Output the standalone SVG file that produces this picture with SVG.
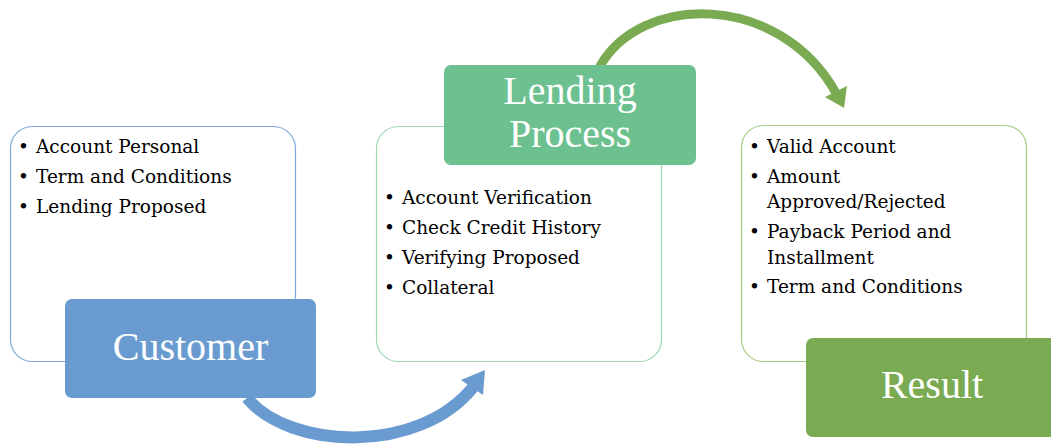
<svg xmlns="http://www.w3.org/2000/svg" width="1051" height="444" viewBox="0 0 1051 444">
<style>
.bt{font-family:"DejaVu Serif","Liberation Serif",serif;font-size:18.5px;fill:#000}
.lb{font-family:"Liberation Serif","DejaVu Serif",serif;font-size:40px;fill:#fff;text-anchor:middle}
.cbox{fill:#fff;stroke-width:1.2}
</style>
<rect width="1051" height="444" fill="#fff"/>
<g id="connectors">
<path d="M247,398 C290,450 420,455 474,386" fill="none" stroke="#6a9bd0" stroke-width="12"/>
<polygon points="485,370 461,380 483,395" fill="#6a9bd0"/>
<path d="M599,68 C640,-8 780,-8 836,93" fill="none" stroke="#7aab53" stroke-width="9"/>
<polygon points="844,108 825,97 847,86" fill="#7aab53"/>
</g>
<g id="customer-details">
<rect class="cbox" x="10.5" y="126.5" width="285" height="235" rx="22" stroke="#7ea6da"/>
<text class="bt" x="18" y="153">•</text><text class="bt" x="36" y="153">Account Personal</text>
<text class="bt" x="18" y="183">•</text><text class="bt" x="36" y="183">Term and Conditions</text>
<text class="bt" x="18" y="213">•</text><text class="bt" x="36" y="213">Lending Proposed</text>
</g>
<g id="customer">
<rect x="65" y="299" width="251" height="99" rx="7" fill="#6a9bd0"/>
<text class="lb" x="190.5" y="360">Customer</text>
</g>
<g id="lending-details">
<rect class="cbox" x="376.5" y="126.5" width="285" height="235" rx="22" stroke="#9ed8b3"/>
<text class="bt" x="384" y="204">•</text><text class="bt" x="402" y="204">Account Verification</text>
<text class="bt" x="384" y="234">•</text><text class="bt" x="402" y="234">Check Credit History</text>
<text class="bt" x="384" y="264">•</text><text class="bt" x="402" y="264">Verifying Proposed</text>
<text class="bt" x="384" y="294">•</text><text class="bt" x="402" y="294">Collateral</text>
</g>
<g id="lending-process">
<rect x="444" y="65" width="252" height="100" rx="7" fill="#6dc191"/>
<text class="lb" x="570" y="104">Lending</text>
<text class="lb" x="570" y="147">Process</text>
</g>
<g id="result-details">
<rect class="cbox" x="741.5" y="125.5" width="285" height="236" rx="22" stroke="#a6cb85"/>
<text class="bt" x="749" y="153">•</text><text class="bt" x="767" y="153">Valid Account</text>
<text class="bt" x="749" y="183">•</text><text class="bt" x="767" y="183">Amount</text>
<text class="bt" x="767" y="208">Approved/Rejected</text>
<text class="bt" x="749" y="238">•</text><text class="bt" x="767" y="238">Payback Period and</text>
<text class="bt" x="767" y="264">Installment</text>
<text class="bt" x="749" y="293">•</text><text class="bt" x="767" y="293">Term and Conditions</text>
</g>
<g id="result">
<rect x="806" y="338" width="260" height="99" rx="7" fill="#7aab53"/>
<text class="lb" x="932" y="398">Result</text>
</g>
</svg>
